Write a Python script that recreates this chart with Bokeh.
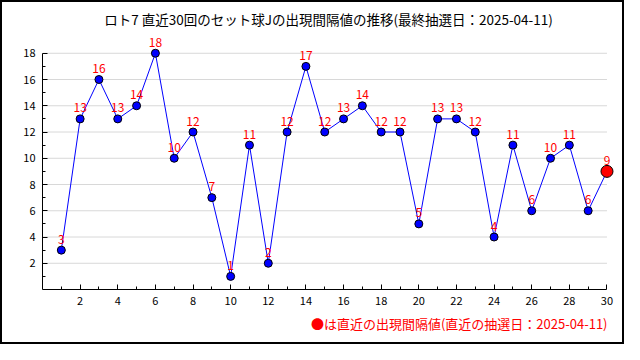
from bokeh.plotting import figure
from bokeh.models import ColumnDataSource, FixedTicker, Range1d, Title
from bokeh.core.properties import value
from bokeh.embed import file_html
from bokeh.resources import INLINE

title_text = "ロト7 直近30回のセット球Jの出現間隔値の推移(最終抽選日：2025-04-11)"
note_text = "●は直近の出現間隔値(直近の抽選日：2025-04-11)"
draws = list(range(1, 31))
intervals = [3, 13, 16, 13, 14, 18, 10, 12, 7, 1, 11, 2, 12, 17, 12, 13, 14, 12, 12, 5,
             13, 13, 12, 4, 11, 6, 10, 11, 6, 9]
x_major = list(range(2, 31, 2))
x_minor = list(range(1, 31, 2))
y_major = list(range(2, 19, 2))
y_minor = list(range(1, 19, 2))
x_lo, x_hi = 0, 30
y_lo, y_hi = 0, 18

FONT = "Noto Sans CJK JP"

p = figure(width=624, height=344, output_backend="svg", toolbar_location=None,
           x_range=Range1d(x_lo, x_hi + 0.4), y_range=Range1d(y_lo, y_hi + 1.2),
           min_border_left=40, min_border_right=12, min_border_top=33, min_border_bottom=57)
p.outline_line_color = None
p.background_fill_color = "white"
p.border_fill_color = "white"
p.styles = {"border": "2px solid black", "box-sizing": "border-box"}

p.title = Title(text=title_text, align="center", vertical_align="top", text_font=FONT,
                text_font_size="13.5px", text_font_style="normal", text_color="black",
                standoff=13)
p.add_layout(Title(text=note_text, align="right", offset=7, vertical_align="bottom",
                   text_font=FONT, text_font_size="13px", text_font_style="normal",
                   text_color="#ff0000", standoff=8), "below")

src = ColumnDataSource(dict(x=draws, y=intervals, lbl=[str(v) for v in intervals]))
last = ColumnDataSource(dict(x=draws[-1:], y=intervals[-1:], lbl=[str(intervals[-1])]))

p.segment(x0=x_lo, x1=x_hi, y0=y_major, y1=y_major, line_color="#d8d8d8", line_width=1)
p.line("x", "y", source=src, line_color="#0000ff", line_width=1)
p.scatter("x", "y", source=src, size=8, fill_color="#0000ff", line_color="black", line_width=1)
p.scatter("x", "y", source=last, size=12, fill_color="#ff0000", line_color="black", line_width=1)
p.text("x", "y", text="lbl", source=src, text_color="#ff0000", text_align="center",
       text_baseline="middle", y_offset=-11, text_font=value(FONT), text_font_size="12px")

for ax, ticks, minor, bnds in ((p.xaxis, x_major, x_minor, (x_lo, x_hi)),
                               (p.yaxis, y_major, y_minor, (y_lo, y_hi))):
    ax.ticker = FixedTicker(ticks=ticks, minor_ticks=minor)
    ax.bounds = bnds
    ax.axis_line_color = "black"
    ax.major_tick_line_color = "black"
    ax.minor_tick_line_color = "black"
    ax.major_tick_in = 5
    ax.major_tick_out = 0
    ax.minor_tick_in = 3
    ax.minor_tick_out = 0
    ax.major_label_text_font = FONT
    ax.major_label_text_font_size = "11px"
    ax.major_label_text_color = "black"
    ax.major_label_standoff = 7

p.xgrid.grid_line_color = None
p.ygrid.grid_line_color = None

open("out.html", "w").write(file_html(p, INLINE))
